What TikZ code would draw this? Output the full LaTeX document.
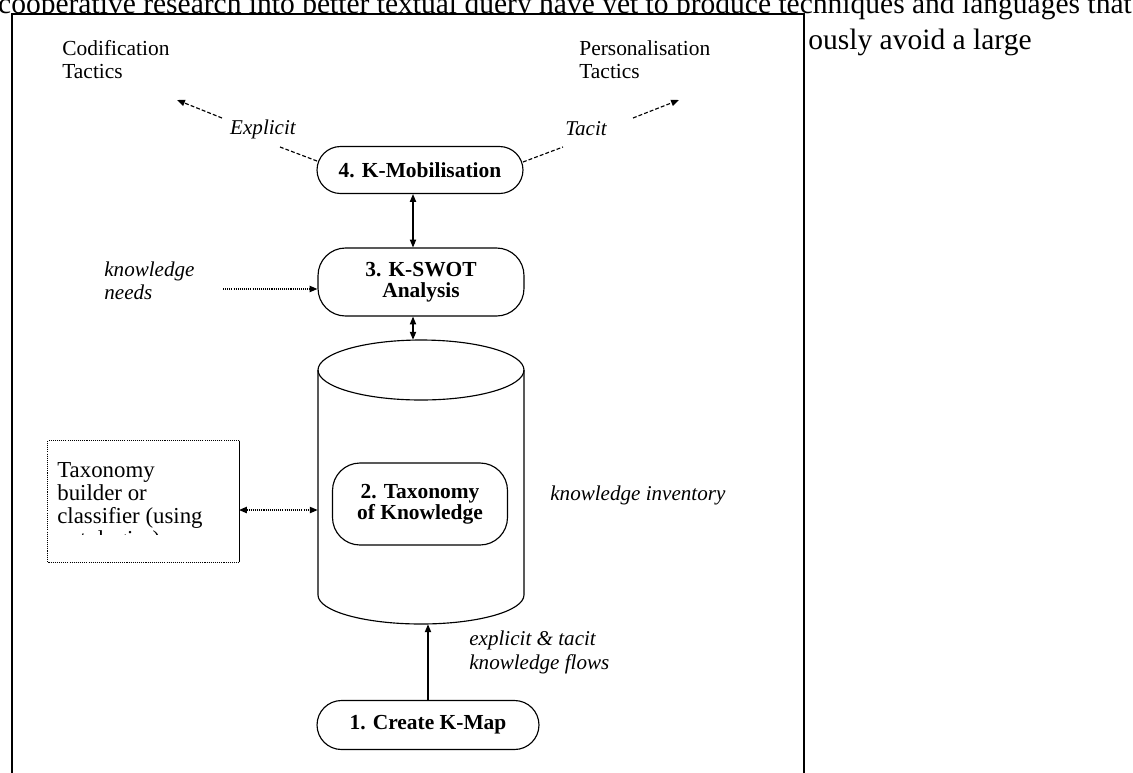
\documentclass[tikz,border=0pt]{standalone}
\usepackage{fontspec}
\setmainfont{Liberation Serif}
\usetikzlibrary{arrows.meta,shapes.misc}
\tikzset{
  px/.style={x=0.02cm,y=-0.02cm},
  bodytext/.style={font=\fontsize{16.8}{20}\selectfont, inner sep=0pt},
  plainlbl/.style={font=\fontsize{12.2}{13.1}\selectfont, align=left, inner sep=0pt},
  itlbl/.style={font=\fontsize{12}{13.4}\selectfont\itshape, align=left, inner sep=0pt},
  stagebox/.style={draw, line width=0.65pt, align=center, inner sep=0pt, font=\fontsize{12.2}{12}\selectfont\bfseries},
  stadium/.style={stagebox, rounded rectangle},
  roundbox/.style={stagebox, rectangle, rounded corners=0.55cm},
  headtip/.style={-{Triangle[length=4.5pt,width=3.6pt]}},
  bothtips/.style={{Triangle[length=4.5pt,width=3.6pt]}-{Triangle[length=4.5pt,width=3.6pt]}},
  dashline/.style={line width=0.65pt, dash pattern=on 2.2pt off 1.2pt},
  dotline/.style={line width=0.75pt, dash pattern=on 0.6pt off 0.6pt},
  plainline/.style={line width=0.65pt},
}
\begin{document}
\begin{tikzpicture}[px]
\useasboundingbox (0,0) rectangle (1133,772);
\clip (0,0) rectangle (1133,772);
% running text behind the frame
\node[bodytext, anchor=base east] (line1) at (1132,13) {cooperative research into better textual query have yet to produce techniques and languages that};
\draw[line width=1pt, fill=white] (12,14) rectangle (804,790);
\node[bodytext, anchor=base west] (line2) at (808,49) {ously avoid a large};

% top labels
\node[plainlbl, anchor=north west] (cod) at (62,40) {Codification\\Tactics};
\node[plainlbl, anchor=north west] (pers) at (579,40) {Personalisation\\Tactics};

% 4. K-Mobilisation
\node[stadium, minimum width=4.12cm, minimum height=0.94cm] (n4) at (420,170) {4. K-Mobilisation};

% explicit / tacit dashed arrows
\coordinate (e1) at (317,161); \coordinate (e2) at (280,147);
\coordinate (e3) at (222,118); \coordinate (e4) at (177,100);
\draw[dashline] (e1) -- (e2);
\draw[dashline, headtip] (e3) -- (e4);
\coordinate (t1) at (523,162); \coordinate (t2) at (563,147);
\coordinate (t3) at (633,118); \coordinate (t4) at (679,100);
\draw[dashline] (t1) -- (t2);
\draw[dashline, headtip] (t3) -- (t4);
\node[itlbl] (expl) at (263,129) {Explicit};
\node[itlbl] (tacit) at (586,129) {Tacit};

% 3. K-SWOT
\node[roundbox, minimum width=4.12cm, minimum height=1.36cm] (n3) at (421,282) {3. K-SWOT\\Analysis};
\coordinate (vx) at (413,0);
\draw[plainline, bothtips] (n4.south -| vx) -- (n3.north -| vx);

\node[itlbl, anchor=west] (kn) at (104,281) {knowledge\\needs};
\coordinate (knstart) at (223,289);
\draw[dotline, headtip] (knstart) -- (knstart -| n3.west);

% cylinder
\draw[plainline] (421,370) ellipse [x radius=2.06cm, y radius=0.6cm];
\draw[plainline] (318,370) -- (318,595) arc[start angle=180,end angle=360,x radius=2.06cm,y radius=0.58cm] -- (524,370);
\node[minimum width=4.12cm, minimum height=5.68cm, inner sep=0pt] (cyl) at (421,482) {};
\draw[plainline, bothtips] (n3.south -| vx) -- (cyl.north -| vx);

\node[roundbox, minimum width=3.5cm, minimum height=1.64cm] (n2) at (420,504) {2. Taxonomy\\of Knowledge};

% taxonomy builder box
\node[minimum width=3.82cm, minimum height=2.42cm, inner sep=0pt] (tb) at (143.5,501.5) {};
\draw[dotline] (tb.north east) -- (tb.north west) -- (tb.south west) -- (tb.south east);
\draw[line width=0.9pt] (tb.north east) -- (tb.south east);
\begin{scope}
\clip (48,441) rectangle (239,534);
\node[font=\fontsize{13}{13.1}\selectfont, align=left, inner sep=0pt, anchor=north west] (tbtext) at (57,462) {Taxonomy\\builder or\\classifier (using\\ontologies)};
\end{scope}
\coordinate (tbarrow) at (239,510);
\draw[dotline, bothtips] (tbarrow) -- (tbarrow -| cyl.west);

\node[itlbl, anchor=west] (inv) at (550,495) {knowledge inventory};

% 1. Create K-Map
\node[stadium, minimum width=4.44cm, minimum height=0.98cm] (n1) at (428,725) {1. Create K-Map};
\draw[plainline, headtip] (n1.north) -- (n1.north |- cyl.south);
\node[itlbl, anchor=north west] (flows) at (469,631) {explicit \& tacit\\knowledge flows};
\end{tikzpicture}
\end{document}
